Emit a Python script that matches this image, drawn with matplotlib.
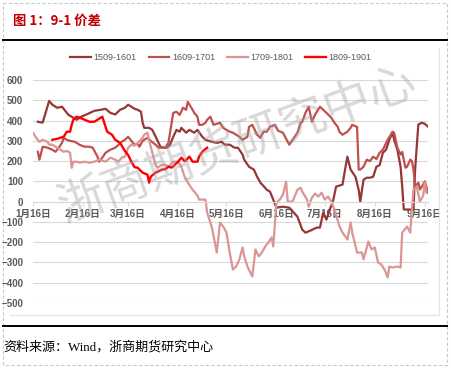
import matplotlib
matplotlib.use('Agg')
import matplotlib.pyplot as plt
from matplotlib.patches import Rectangle
from matplotlib.transforms import Bbox, TransformedBbox

plt.rcParams['font.family'] = ['Liberation Sans', 'Noto Sans CJK SC', 'DejaVu Sans']

# x = days after Jan 16
tick_days = [0, 31, 59, 90, 120, 151, 181, 212, 243]
tick_labels = ['1月16日', '2月16日', '3月16日', '4月16日', '5月16日',
               '6月16日', '7月16日', '8月16日', '9月16日']
y_ticks = [600, 500, 400, 300, 200, 100, 0, -100, -200, -300, -400, -500]

d1509 = [3, 6, 8, 10, 12, 15, 18, 20, 22, 25, 27, 30, 34, 38, 42, 45, 48, 51, 54, 57,
         59, 61, 63, 65, 67, 68, 69, 72, 74, 77, 79, 81, 83, 85, 87, 89, 91, 92, 95, 97,
         100, 102, 105, 107, 111, 114, 117, 119, 122, 125, 127, 128, 130, 131, 134, 137, 139, 141, 145, 147,
         149, 151, 155, 159, 164, 167, 169, 172, 176, 178, 180, 182, 184, 186, 188, 192, 193, 195, 197, 200,
         202, 203, 205, 207, 209, 211, 213, 215, 217, 219, 221, 223, 224, 226, 228, 229, 230, 233, 236, 237,
         239, 241, 243, 245]
v1509 = [394, 390, 443, 497, 478, 463, 468, 448, 428, 414, 404, 419, 433, 448, 453, 458, 438, 430, 453, 463,
         478, 468, 458, 453, 443, 389, 364, 364, 354, 305, 271, 266, 266, 281, 320, 354, 345, 364, 340, 354,
         340, 354, 320, 305, 295, 290, 295, 281, 281, 266, 266, 256, 232, 207, 172, 158, 123, 94, 59, 49,
         10, -30, -25, -30, -74, -138, -153, -143, -128, -128, -54, -89, -40, 0, 74, 84, 133, 222, 158, 123,
         59, 0, 108, 118, 118, 123, 172, 180, 241, 256, 305, 340, 305, 256, 172, 74, -39, -39, -39, 158,
         380, 389, 384, 370]

d1609 = [3, 4, 6, 9, 12, 14, 16, 18, 19, 21, 23, 26, 29, 32, 35, 37, 40, 41, 43, 45,
         48, 51, 53, 55, 57, 59, 61, 63, 65, 66, 68, 71, 73, 76, 78, 80, 82, 84, 86, 87,
         89, 91, 93, 95, 96, 99, 100, 102, 103, 105, 107, 108, 110, 112, 116, 118, 120, 122, 124, 126,
         128, 130, 133, 134, 136, 139, 141, 143, 145, 147, 150, 152, 155, 158, 159, 161, 164, 166, 167, 169,
         171, 173, 175, 178, 180, 182, 185, 187, 189, 190, 192, 195, 197, 198, 201, 202, 203, 205, 207, 209,
         211, 213, 215, 217, 220, 223, 224, 226, 228, 229, 231, 232, 234, 235, 236, 237, 239, 240, 242, 243,
         245]
v1609 = [246, 207, 271, 266, 256, 246, 266, 290, 315, 305, 300, 295, 280, 271, 271, 266, 222, 197, 217, 241,
         256, 266, 280, 295, 305, 320, 300, 280, 285, 271, 300, 315, 300, 281, 266, 266, 266, 290, 389, 438,
         443, 428, 463, 453, 492, 453, 438, 419, 379, 379, 389, 404, 419, 379, 389, 364, 354, 345, 340, 330,
         320, 305, 320, 369, 379, 330, 315, 345, 345, 369, 379, 350, 340, 295, 281, 305, 340, 389, 394, 438,
         468, 394, 430, 468, 453, 438, 414, 389, 369, 345, 330, 345, 364, 379, 369, 158, 158, 172, 207, 200,
         222, 210, 241, 256, 305, 345, 340, 266, 232, 245, 167, 172, 207, 200, 158, 74, 94, 60, 84, 100,
         44]

d1709 = [0, 2, 4, 6, 9, 10, 12, 15, 17, 19, 21, 23, 24, 25, 27, 29, 32, 35, 38, 41,
         45, 48, 51, 53, 55, 57, 59, 61, 63, 65, 68, 69, 71, 72, 74, 76, 77, 80, 82, 84,
         87, 90, 92, 94, 96, 99, 102, 103, 107, 108, 111, 114, 116, 118, 120, 122, 124, 126, 128, 130,
         131, 133, 136, 138, 140, 142, 144, 146, 148, 149, 150, 151, 153, 155, 157, 158, 161, 162, 164, 166,
         167, 170, 171, 173, 175, 177, 179, 181, 183, 185, 187, 190, 192, 195, 197, 198, 201, 204, 205, 208,
         210, 212, 214, 216, 218, 220, 221, 223, 226, 228, 229, 232, 234, 235, 236, 238, 240, 242, 243, 244]
v1709 = [340, 315, 295, 305, 295, 281, 281, 266, 256, 246, 250, 241, 167, 197, 197, 192, 197, 192, 197, 207,
         197, 217, 207, 197, 217, 222, 266, 281, 276, 290, 315, 330, 340, 305, 241, 182, 167, 182, 182, 172,
         197, 197, 172, 123, 94, 59, 30, 10, 10, -54, -128, -251, -103, -123, -153, -251, -335, -320, -285, -226,
         -270, -320, -369, -236, -270, -251, -221, -202, -177, -221, -113, -5, 10, 34, 98, 0, 0, 20, 59, 69,
         49, 10, -25, 20, 40, 25, 44, 10, 25, 0, -39, -120, -153, -187, -103, -153, -251, -251, -285, -197,
         -236, -226, -300, -310, -335, -374, -320, -325, -320, -325, -153, -123, -153, -39, 59, 74, 0, 30, 94, 44]

d1809 = [12, 15, 17, 19, 21, 23, 24, 25, 27, 29, 32, 35, 38, 42, 43, 45, 46, 49, 51, 54,
         57, 59, 61, 63, 65, 66, 68, 71, 72, 73, 76, 78, 80, 82, 84, 86, 88, 90, 92, 94,
         95, 97, 99, 102, 103, 105, 108]
v1809 = [305, 310, 315, 320, 345, 345, 379, 404, 419, 414, 404, 394, 394, 414, 419, 369, 345, 330, 305, 290,
         250, 230, 197, 170, 167, 158, 143, 133, 94, 123, 143, 150, 158, 160, 172, 168, 182, 197, 217, 200,
         205, 222, 197, 197, 222, 246, 266]

series = [('1509-1601', d1509, v1509, '#953735', 1.6),
          ('1609-1701', d1609, v1609, '#C0504D', 1.6),
          ('1709-1801', d1709, v1709, '#D99694', 1.6),
          ('1809-1901', d1809, v1809, '#FF0000', 1.7)]

W, H = 451, 368
fig = plt.figure(figsize=(W / 100, H / 100), dpi=100)

# page decorations in pixel coordinates
bg = fig.add_axes([0, 0, 1, 1])
bg.set_xlim(0, W)
bg.set_ylim(H, 0)
bg.axis('off')
bg.add_patch(Rectangle((3, 3), 444, 362, fill=False, ec='#C8C8C8', lw=0.8, ls=(0, (3, 2))))
bg.plot([3, 447], [40, 40], color='black', lw=1.4)
bg.plot([3, 447], [326, 326], color='black', lw=1.4)
bg.plot([439, 439, 10], [48, 315, 315], color='#E3E3E3', lw=0.8)
bg.text(13, 21, '图 1：9-1 价差', fontsize=9.6, fontweight='bold', color='#C00000',
        va='center', ha='left', family=['Noto Sans CJK SC', 'DejaVu Sans'])
bg.text(3, 347, '资料来源：Wind，浙商期货研究中心', fontsize=9.4, color='black',
        va='center', ha='left', family=['Liberation Serif', 'Noto Sans CJK SC'])

ax = fig.add_axes([33 / W, 1 - 303 / H, (428 - 33) / W, (303 - 80) / H])
ax.patch.set_visible(False)
for name, d, v, c, lw in series:
    ax.plot(d, v, color=c, lw=lw, label=name, solid_joinstyle='round')

ax.set_xlim(0, 245)
ax.set_ylim(-500, 600)
ax.set_yticks(y_ticks)
ax.set_xticks(tick_days)
ax.set_xticklabels(tick_labels)
ax.grid(axis='y', color='#D9D9D9', lw=0.8)
ax.set_axisbelow(True)
for s in ['top', 'right', 'left']:
    ax.spines[s].set_visible(False)
ax.spines['bottom'].set_position(('data', 0))
ax.spines['bottom'].set_color('#D9D9D9')
ax.spines['bottom'].set_linewidth(0.8)
ax.tick_params(axis='y', length=0, pad=7, labelsize=7, labelcolor='#595959')
ax.tick_params(axis='x', length=3, color='#D9D9D9', pad=2, labelsize=7, labelcolor='#595959')
for lbl in ax.get_xticklabels() + ax.get_yticklabels():
    lbl.set_fontweight('bold')
clip = TransformedBbox(Bbox([[0, 0], [439 / W, 1]]), fig.transFigure)
last = ax.get_xticklabels()[-1]
last.set_clip_box(clip)
last.set_clip_on(True)

ax.legend(loc='center', bbox_to_anchor=(221 / W, 1 - 58 / H), bbox_transform=fig.transFigure,
          ncol=4, frameon=False, fontsize=6.5, handlelength=2.3, handletextpad=0.3,
          columnspacing=1.3, labelcolor='#595959')

# watermark
fig.text(237 / W, 1 - 145 / H, '浙商期货研究中心', fontsize=34, color='#A0A0A0', alpha=0.4,
         rotation=20, ha='center', va='center', family=['Noto Sans CJK SC'], fontweight='light',
         zorder=10)

fig.savefig('out.png', dpi=100)
